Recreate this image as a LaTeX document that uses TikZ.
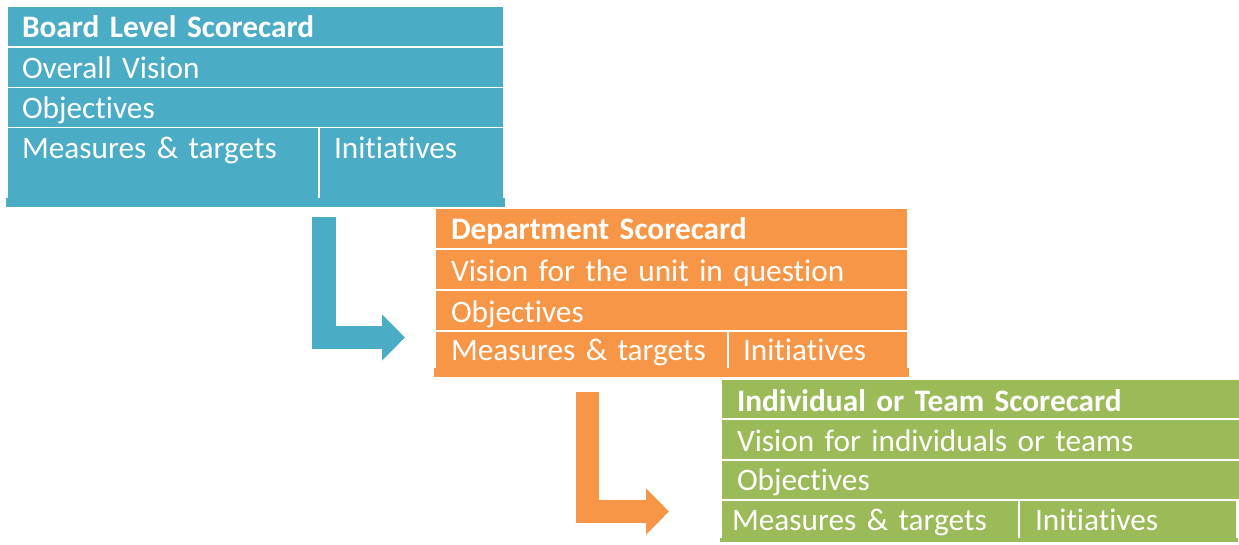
\documentclass[tikz,border=0pt]{standalone}
\usepackage{fontspec}
\setmainfont{Carlito}[Ligatures=CommonOff, WordSpace=0.75]
\usepackage{tikz}
\usetikzlibrary{arrows.meta}
\definecolor{boardblue}{HTML}{4BACC6}
\definecolor{deptorange}{HTML}{F79646}
\definecolor{teamgreen}{HTML}{9BBB59}
\newcommand{\cellfont}{\fontsize{31.3}{38}\selectfont}
\tikzset{
  cell/.style={anchor=north west, inner ysep=0pt, inner xsep=14pt,
    outer sep=0pt, text height=31pt, text depth=8pt, align=left,
    text=white, font=\cellfont},
  headcell/.style={font=\cellfont\bfseries},
  boardcell/.style={cell, fill=boardblue},
  deptcell/.style={cell, fill=deptorange, inner xsep=15pt},
  teamcell/.style={cell, fill=teamgreen, inner xsep=15pt},
  cardbase/.style={anchor=north west, inner sep=0pt, outer sep=0pt},
  stepdown/.style={line width=23.5pt, line join=miter,
    -{Triangle[length=23pt,width=45pt]}}
}

\begin{document}
\begin{tikzpicture}[x=1pt,y=-1pt]
\useasboundingbox (0,0) rectangle (1239,545);

% Board level card
\node[boardcell, headcell, text width=467pt] (b-head) at (8,7)
  {Board Level Scorecard};
\node[boardcell, text width=467pt] (b-vision) at (8,48) {Overall Vision};
\node[boardcell, text width=467pt] (b-obj) at (8,88) {Objectives};
\node[boardcell, text width=282pt, text depth=39pt] (b-meas) at (8,128)
  {Measures \& targets};
\node[boardcell, text width=155pt, text depth=39pt] (b-init) at (320,128)
  {Initiatives};
\node[cardbase, fill=boardblue, minimum width=499pt, minimum height=9pt]
  (b-base) at (6,198) {};

% Department card
\node[deptcell, headcell, text width=441pt] (d-head) at (436,209)
  {Department Scorecard};
\node[deptcell, text width=441pt] (d-vision) at (436,250)
  {Vision for the unit in question};
\node[deptcell, text width=441pt] (d-obj) at (436,291) {Objectives};
\node[deptcell, text width=261pt, text height=28pt] (d-meas) at (436,332)
  {Measures \& targets};
\node[deptcell, text width=150pt, text height=28pt, inner xsep=14pt]
  (d-init) at (729,332) {Initiatives};
\node[cardbase, fill=deptorange, minimum width=475pt, minimum height=9pt]
  (d-base) at (434,368) {};

% Individual or team card
\node[teamcell, headcell, text width=487pt, text depth=7pt] (t-head)
  at (722,380) {Individual or Team Scorecard};
\node[teamcell, text width=487pt] (t-vision) at (722,420)
  {Vision for individuals or teams};
\node[teamcell, text width=487pt, text height=29pt, text depth=9pt]
  (t-obj) at (722,461) {Objectives};
\node[teamcell, text width=276pt, inner xsep=10pt, text height=29pt]
  (t-meas) at (722,501) {Measures \& targets};
\node[teamcell, text width=186pt, text height=29pt] (t-init) at (1020,501)
  {Initiatives};
\node[cardbase, fill=teamgreen, minimum width=518pt, minimum height=4pt]
  (t-base) at (720,538) {};

% Cascade arrows
\coordinate (bd-from) at (324,217);
\coordinate (bd-to) at (405,337.5);
\draw[stepdown, boardblue] (bd-from) |- (bd-to);
\coordinate (dt-from) at (587.5,392);
\coordinate (dt-to) at (669,511.5);
\draw[stepdown, deptorange] (dt-from) |- (dt-to);

\end{tikzpicture}
\end{document}
